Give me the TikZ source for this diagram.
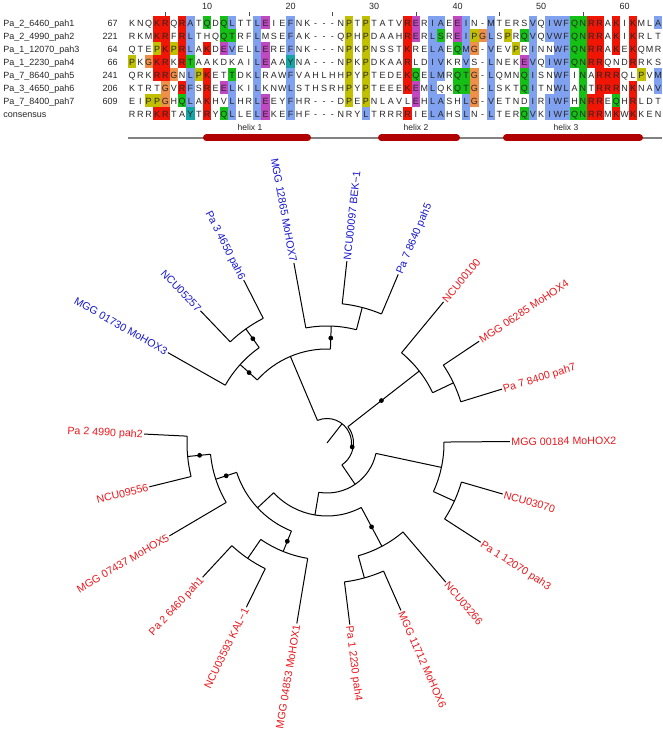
\documentclass[tikz,border=0pt]{standalone}
\usepackage{fontspec}
\setmainfont{Liberation Sans}
\usepackage{xstring}
\definecolor{colb}{RGB}{128,160,240}
\definecolor{colr}{RGB}{240,21,5}
\definecolor{colg}{RGB}{21,192,21}
\definecolor{colm}{RGB}{192,72,192}
\definecolor{colo}{RGB}{240,144,72}
\definecolor{coly}{RGB}{192,192,0}
\definecolor{colc}{RGB}{21,164,164}
\definecolor{helixred}{RGB}{176,0,0}
\definecolor{trackgray}{RGB}{130,130,130}
\definecolor{leafblue}{RGB}{25,25,210}
\definecolor{leafred}{RGB}{235,25,30}
\newcommand\alnrow[4]{%
  \foreach \k in {1,...,64}{%
    \StrChar{#4}{\k}[\alnC]%
    \StrChar{#3}{\k}[\alnR]%
    \pgfmathsetmacro\alnX{132+(\k-1)*8.35}%
    \IfStrEq{\alnC}{.}{}{\edef\alnF{col\alnC}\fill[fill=\alnF] (\alnX-4.175,#2-6.5) rectangle (\alnX+4.175,#2+6.5);}%
    \node[res] (r#1c\k) at (\alnX,#2-3.2) {\alnR};%
  }}
\begin{document}
\begin{tikzpicture}[x=0.75pt,y=0.75pt,
  res/.style={font=\fontsize{6.75}{8}\selectfont, inner sep=0pt, anchor=base, text=black!85},
  seqname/.style={font=\fontsize{6.75}{8}\selectfont, inner sep=0pt, anchor=base west, text=black!85},
  seqnum/.style={font=\fontsize{6.75}{8}\selectfont, inner sep=0pt, anchor=base east, text=black!85},
  helixlab/.style={font=\fontsize{6.4}{8}\selectfont, inner sep=0pt, anchor=base, text=black!85},
  treeline/.style={line width=0.75pt, black},
  leaflab/.style={font=\fontsize{8.0}{9}\selectfont, inner sep=0.9pt, text height=5.8pt, text depth=0pt},
  bootdot/.style={circle, fill=black, inner sep=0pt, minimum size=3.6pt}]
\useasboundingbox (0,0) rectangle (662,730);
\fill[white] (0,0) rectangle (662,730);

% ---------- ruler ----------
\foreach \n in {10,20,30,40,50,60}
  \node[res] (pos\n) at ({132+(\n-1)*8.35},720.7) {\n};
\foreach \tk in {5,15,25,35,45,55}
  \draw[black!70, line width=0.6pt] ({132+(\tk-1)*8.35},717.5) -- ({132+(\tk-1)*8.35},714);

% ---------- alignment ----------
\alnrow{1}{707}{KNQKRQRATQDQLTTLEIEFNK---NPTPTATVRERIAEEIN-MTERSVQIWFQNRRAKIKMLA}{...rr.rb.g.gb..bm..b......y.y....rm.bb.mb..b....b.bbbggrr.r.r..b}
\alnrow{2}{694}{RKMKRFRLTHQQTRFLMSEFAK---QPHPDAAHRERLSREIPGLSPRQVQVWFQNRRAKIKRLT}{...rr.rb...gg..b...b......y.y....rm.bg.mbyob.y.gb.bbbggrr.r.r...}
\alnrow{3}{681}{QTEPKPRLAKDEVELLEREFNK---NPKPNSSTKRELAEQMG-VEVPRINNWFQNRRAKEKQMR}{...yryrb.r.mb..bm..b......y.y....r..bb.gbo.b..y.b..bbggrr.r.r...}
\alnrow{4}{668}{PKGKRKRTAAKDKAILEAAYNA---NPKPDKAARLDIVKRVS-LNEKEVQIWFQNRRQNDRRKS}{y.orr.rg.......bm..c......y.y....r..bb..b..b...mb.bbbggrr...r...}
\alnrow{5}{655}{QRKRRGNLPKETTDKLRAWFVAHLHHPYPTEDEKQELMRQTG-LQMNQISNWFINARRRQLPVM}{...rro.byr..g..b...b......y.y....rg.bb.ggo.b...gb..bb.g.rrr..y.b}
\alnrow{6}{642}{KTRTGVRFSREELKILKNWLSTHSRHPYPTEEEKEMLQKQTG-LSKTQITNWLANTRRRNKNAV}{....o.rb.r.mb..b...b......y.y....rm.b..ggo.b...gb..bb.g.rrr.r..b}
\alnrow{7}{629}{EIPPGHQLAKHVLHRLEEYFHR---DPEPNLAVLEHLASHLG-VETNDIRIWFHNRREQHRLDT}{..yyo.gb.r..b..bm..b......y.y.....m.bb..bo.b....b.bbb.grr.g.r...}
\alnrow{8}{616}{RRRKRTAYTRYQLLELEKEFHF---NRYLTRRRRIELAHSLN-LTERQVKIWFQNRRMKWKKEN}{...rr..c.r.gb..bm..b........b....r..bb..b..b...gb.bbbggrr.r.r...}

\node[seqname] (n1) at (3,703.8) {Pa\_2\_6460\_pah1};
\node[seqname] (n2) at (3,690.8) {Pa\_2\_4990\_pah2};
\node[seqname] (n3) at (3,677.8) {Pa\_1\_12070\_pah3};
\node[seqname] (n4) at (3,664.8) {Pa\_1\_2230\_pah4};
\node[seqname] (n5) at (3,651.8) {Pa\_7\_8640\_pah5};
\node[seqname] (n6) at (3,638.8) {Pa\_3\_4650\_pah6};
\node[seqname] (n7) at (3,625.8) {Pa\_7\_8400\_pah7};
\node[seqname] (n8) at (3,612.8) {consensus};
\node[seqnum] (k1) at (118,703.8) {67};
\node[seqnum] (k2) at (118,690.8) {221};
\node[seqnum] (k3) at (118,677.8) {64};
\node[seqnum] (k4) at (118,664.8) {66};
\node[seqnum] (k5) at (118,651.8) {241};
\node[seqnum] (k6) at (118,638.8) {206};
\node[seqnum] (k7) at (118,625.8) {609};

% ---------- helix track ----------
\draw[trackgray, line width=1.1pt] (128,592) -- (662,592);
\draw[helixred, line width=5.25pt, line cap=round] (206.5,592) -- (307.5,592);
\draw[helixred, line width=5.25pt, line cap=round] (381.5,592) -- (456.5,592);
\draw[helixred, line width=5.25pt, line cap=round] (506.5,592) -- (639.5,592);
\node[helixlab] (h1) at (250,599) {helix 1};
\node[helixlab] (h2) at (416,599) {helix 2};
\node[helixlab] (h3) at (566,599) {helix 3};

% ---------- tree ----------
\begin{scope}[shift={(327,287)}]
\coordinate (root) at (0,0);
% leaves, left side
\foreach \i/\a/\ri/\lab/\lc in {
  1/150.40/117/MGG 01730 MoHOX3/leafblue,
  2/133.74/140/NCU05257/leafblue,
  3/117.08/140/Pa 3 4650 pah6/leafblue,
  4/100.42/117/MGG 12865 MoHOX7/leafblue,
  16/-99.50/117/MGG 04853 MoHOX1/leafred,
  17/-116.16/140/NCU03593 KAL−1/leafred,
  18/-132.82/140/Pa 2 6460 pah1/leafred,
  19/-149.48/117/MGG 07437 MoHOX5/leafred,
  20/-166.14/140/NCU09556/leafred,
  21/-182.80/140/Pa 2 4990 pah2/leafred}{
  \coordinate (b\i) at (\a:\ri);
  \coordinate (t\i) at (\a:183);
  \draw[treeline] (b\i) -- (t\i);
  \node[leaflab, text=\lc, anchor=east, rotate=\a+180] (L\i) at (t\i) {\lab};
}
% leaves, right side
\foreach \i/\a/\ri/\lab/\lc in {
  5/83.76/140/NCU00097 BEK−1/leafblue,
  6/67.10/140/Pa 7 8640 pah5/leafblue,
  7/50.44/117/NCU00100/leafred,
  8/33.78/140/MGG 06285 MoHOX4/leafred,
  9/17.12/140/Pa 7 8400 pah7/leafred,
  10/0.46/117/MGG 00184 MoHOX2/leafred,
  11/-16.20/140/NCU03070/leafred,
  12/-32.86/140/Pa 1 12070 pah3/leafred,
  13/-49.52/117/NCU03266/leafred,
  14/-66.18/140/MGG 11712 MoHOX6/leafred,
  15/-82.84/140/Pa 1 2230 pah4/leafred}{
  \coordinate (b\i) at (\a:\ri);
  \coordinate (t\i) at (\a:183);
  \draw[treeline] (b\i) -- (t\i);
  \node[leaflab, text=\lc, anchor=west, rotate=\a] (L\i) at (t\i) {\lab};
}
% triplets: single leaf angle / cherry angles / cherry mid / triplet mid / stem base radius
\foreach \j/\sa/\ba/\ca/\ma/\ta/\qa in {
  1/150.40/133.74/117.08/125.41/137.905/94,
  2/100.42/83.76/67.10/75.43/87.925/94,
  3/50.44/33.78/17.12/25.45/37.945/26.5,
  4/0.46/-16.20/-32.86/-24.53/-12.035/50,
  5/-49.52/-66.18/-82.84/-74.51/-62.015/73,
  6/-99.50/-116.16/-132.82/-124.49/-111.995/95,
  7/-149.48/-166.14/-182.80/-174.47/-161.975/95}{
  \coordinate (ch\j) at (\ma:140);
  \coordinate (chb\j) at (\ma:117);
  \draw[treeline] (\ba:140) arc[start angle=\ba, end angle=\ca, radius=140];
  \draw[treeline] (chb\j) -- (ch\j);
  \draw[treeline] (\sa:117) arc[start angle=\sa, end angle=\ma, radius=117];
  \coordinate (tr\j) at (\ta:117);
  \coordinate (trb\j) at (\ta:\qa);
  \draw[treeline] (trb\j) -- (tr\j);
}
% deeper nodes
\coordinate (blue) at (112.915:94);
\coordinate (blueb) at (112.915:24.5);
\draw[treeline] (137.905:94) arc[start angle=137.905, end angle=87.925, radius=94];
\draw[treeline] (blueb) -- (blue);
\coordinate (n67) at (-136.985:95);
\coordinate (n67b) at (-136.985:73);
\draw[treeline] (-111.995:95) arc[start angle=-111.995, end angle=-161.975, radius=95];
\draw[treeline] (n67b) -- (n67);
\coordinate (n567) at (-99.5:73);
\coordinate (n567b) at (-99.5:50);
\draw[treeline] (-62.015:73) arc[start angle=-62.015, end angle=-136.985, radius=73];
\draw[treeline] (n567b) -- (n567);
\coordinate (nlow) at (-55.77:50);
\coordinate (nlowb) at (-55.77:26.5);
\draw[treeline] (-12.035:50) arc[start angle=-12.035, end angle=-99.5, radius=50];
\draw[treeline] (nlowb) -- (nlow);
\coordinate (nred) at (-8.91:26.5);
\coordinate (nredb) at (-8.91:24.5);
\draw[treeline] (37.945:26.5) arc[start angle=37.945, end angle=-55.77, radius=26.5];
\draw[treeline] (nredb) -- (nred);
\coordinate (rootarc) at (52:24.5);
\draw[treeline] (112.915:24.5) arc[start angle=112.915, end angle=-8.91, radius=24.5];
\draw[treeline] (root) -- (rootarc);
% support dots
\node[bootdot] (d1) at (125.41:128) {};
\node[bootdot] (d2) at (137.905:105) {};
\node[bootdot] (d3) at (87.925:105) {};
\node[bootdot] (d4) at (37.945:69) {};
\node[bootdot] (d5) at (-8.91:25.5) {};
\node[bootdot] (d6) at (-62.015:95) {};
\node[bootdot] (d7) at (-111.995:106) {};
\node[bootdot] (d8) at (-174.47:128) {};
\node[bootdot] (d9) at (-161.975:106) {};
\end{scope}
\end{tikzpicture}
\end{document}
